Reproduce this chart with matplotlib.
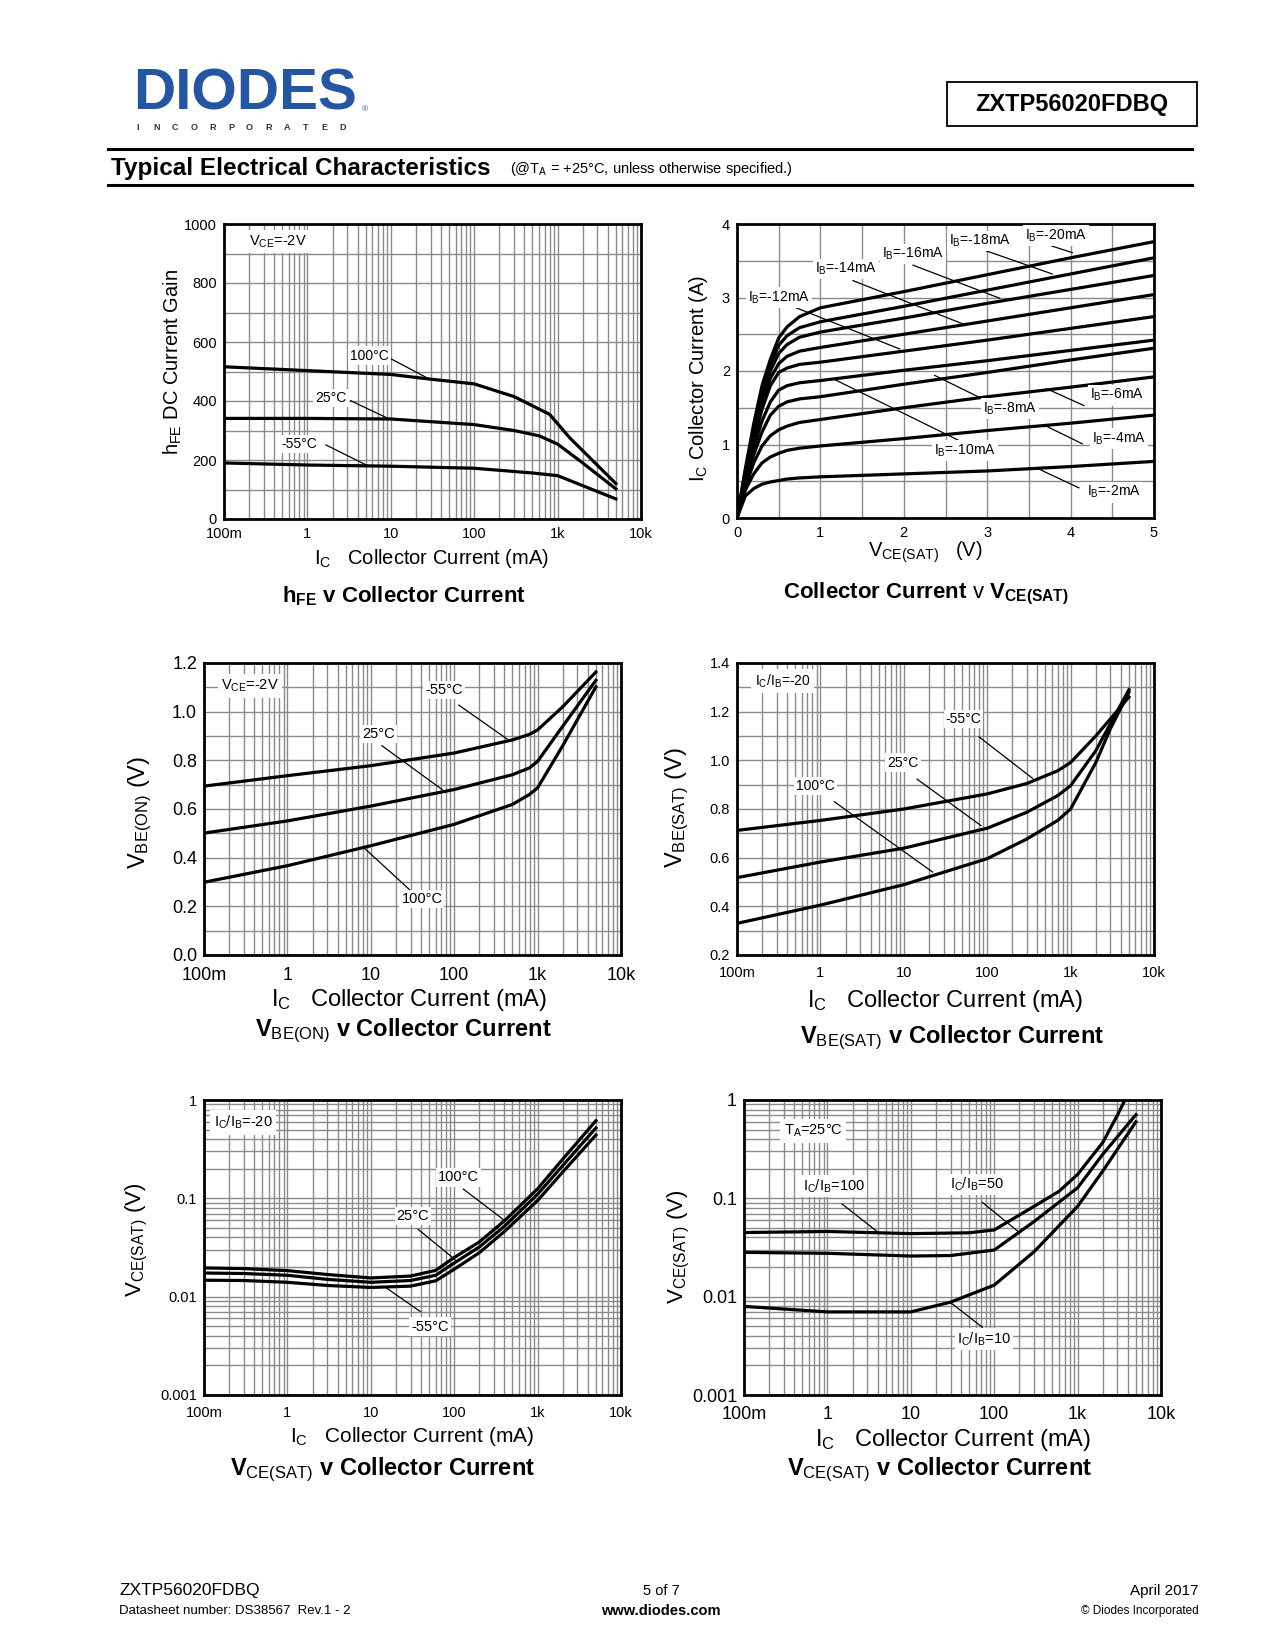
import matplotlib
matplotlib.use('Agg')
import matplotlib.pyplot as plt
import numpy as np
from matplotlib.ticker import LogLocator, FixedLocator, NullFormatter, MultipleLocator, FormatStrFormatter
from matplotlib.patches import Rectangle
from matplotlib.lines import Line2D

plt.rcParams['font.family'] = ['Liberation Sans', 'DejaVu Sans']
plt.rcParams['mathtext.fontset'] = 'custom'
plt.rcParams['mathtext.rm'] = 'Liberation Sans'
plt.rcParams['mathtext.bf'] = 'Liberation Sans:bold'
plt.rcParams['mathtext.it'] = 'Liberation Sans:italic'
plt.rcParams['mathtext.default'] = 'regular'

# ---------------- data ----------------
# hFE vs Ic
hfe_ic_100 = [0.1, 1, 10, 30, 100, 300, 800, 1400, 5000]
hfe_100 = [516, 503, 490, 474, 458, 415, 355, 275, 120]
hfe_ic_25 = [0.1, 1, 10, 100, 300, 600, 1000, 2000, 5000]
hfe_25 = [341, 341, 339, 320, 300, 282, 254, 190, 102]
hfe_ic_m55 = [0.1, 1, 10, 100, 500, 1000, 2000, 5000]
hfe_m55 = [190, 183, 179, 172, 156, 147, 113, 68]

# Ic vs Vce(sat)
vce_pts = [0, 0.1, 0.2, 0.3, 0.4, 0.5, 0.6, 0.75, 1.0, 2, 3, 4, 5]
ic_ib2 = [0, 0.30, 0.40, 0.46, 0.49, 0.51, 0.53, 0.545, 0.56, 0.60, 0.64, 0.70, 0.77]
ic_ib4 = [0, 0.38, 0.60, 0.75, 0.83, 0.88, 0.92, 0.95, 0.98, 1.08, 1.19, 1.29, 1.40]
ic_ib6 = [0, 0.42, 0.75, 0.98, 1.12, 1.20, 1.25, 1.30, 1.34, 1.50, 1.65, 1.78, 1.92]
ic_ib8 = [0, 0.46, 0.86, 1.17, 1.40, 1.52, 1.58, 1.62, 1.65, 1.82, 1.98, 2.15, 2.31]
ic_ib10 = [0, 0.50, 0.95, 1.32, 1.58, 1.74, 1.80, 1.84, 1.87, 2.01, 2.14, 2.28, 2.42]
ic_ib12 = [0, 0.55, 1.05, 1.48, 1.80, 1.98, 2.04, 2.09, 2.12, 2.27, 2.42, 2.58, 2.74]
ic_ib14 = [0, 0.58, 1.10, 1.56, 1.90, 2.10, 2.20, 2.27, 2.32, 2.50, 2.68, 2.86, 3.04]
ic_ib16 = [0, 0.61, 1.16, 1.64, 2.00, 2.24, 2.36, 2.46, 2.53, 2.72, 2.92, 3.11, 3.30]
ic_ib18 = [0, 0.64, 1.22, 1.72, 2.08, 2.35, 2.48, 2.59, 2.67, 2.88, 3.10, 3.32, 3.54]
ic_ib20 = [0, 0.67, 1.28, 1.80, 2.16, 2.45, 2.60, 2.74, 2.86, 3.08, 3.31, 3.54, 3.76]

# VBE(ON) vs Ic
vbeon_ic = [0.1, 1, 10, 100, 500, 800, 1000, 2000, 5000]
vbeon_m55 = [0.694, 0.737, 0.778, 0.830, 0.884, 0.907, 0.925, 1.02, 1.163]
vbeon_25 = [0.501, 0.551, 0.612, 0.680, 0.741, 0.769, 0.796, 0.94, 1.129]
vbeon_100 = [0.299, 0.367, 0.449, 0.537, 0.619, 0.660, 0.687, 0.86, 1.102]

# VBE(SAT) vs Ic
vbesat_ic = [0.1, 1, 10, 100, 300, 700, 1000, 2000, 3000, 5000]
vbesat_m55 = [0.712, 0.753, 0.800, 0.862, 0.905, 0.957, 0.991, 1.10, 1.17, 1.26]
vbesat_25 = [0.518, 0.582, 0.639, 0.721, 0.787, 0.855, 0.896, 1.039, 1.15, 1.29]
vbesat_100 = [0.330, 0.405, 0.489, 0.596, 0.677, 0.753, 0.800, 0.99, 1.13, 1.28]

# VCE(SAT) vs Ic, temperature
vcesat_ic = [0.1, 0.3, 1, 3, 10, 30, 60, 100, 200, 400, 1000, 2000, 5000]
vcesat_100 = [0.0196, 0.0193, 0.0184, 0.0168, 0.0155, 0.0162, 0.0185, 0.025, 0.036, 0.059, 0.125, 0.25, 0.615]
vcesat_25 = [0.0174, 0.0172, 0.0165, 0.0150, 0.0140, 0.0146, 0.0165, 0.022, 0.032, 0.052, 0.110, 0.215, 0.52]
vcesat_m55 = [0.0147, 0.0146, 0.0140, 0.0130, 0.0124, 0.0128, 0.0145, 0.019, 0.028, 0.046, 0.095, 0.185, 0.44]

# VCE(SAT) vs Ic, Ic/Ib ratio
ratio_ic_100 = [0.1, 1, 10, 50, 100, 300, 600, 1000, 2000, 3000, 3700]
ratio_100 = [0.0449, 0.0460, 0.0438, 0.0446, 0.0477, 0.0828, 0.118, 0.175, 0.369, 0.70, 1.0]
ratio_ic = [0.1, 1, 10, 30, 100, 300, 1000, 2000, 5000]
ratio_50 = [0.0282, 0.0276, 0.0259, 0.0262, 0.0298, 0.058, 0.128, 0.28, 0.708]
ratio_10 = [0.00796, 0.0070, 0.0070, 0.0088, 0.0131, 0.0286, 0.0828, 0.189, 0.600]

log_ticks = [0.1, 1, 10, 100, 1000, 10000]
log_labels = ['100m', '1', '10', '100', '1k', '10k']

# ---------------- figure ----------------
W, H = 1275, 1650
fig = plt.figure(figsize=(12.75, 16.5), dpi=100)

GRID = '#8a8a8a'
LW = 2.3


def ax_px(x0, y0, x1, y1):
    return fig.add_axes([x0 / W, 1 - y1 / H, (x1 - x0) / W, (y1 - y0) / H])


def ftxt(x, y, s, **kw):
    return fig.text(x / W, 1 - y / H, s, **kw)


def style(ax, fs, xpad=5):
    for sp in ax.spines.values():
        sp.set_linewidth(2.0)
        sp.set_color('black')
    ax.set_axisbelow(True)
    ax.tick_params(which='both', length=0, labelsize=fs, pad=5)
    ax.tick_params(axis='x', which='both', pad=xpad)
    ax.grid(which='both', color=GRID, lw=1.0)


def logx(ax):
    ax.set_xscale('log')
    ax.set_xlim(0.1, 10000)
    ax.xaxis.set_major_locator(FixedLocator(log_ticks))
    ax.xaxis.set_minor_locator(LogLocator(base=10, subs=np.arange(2, 10), numticks=100))
    ax.xaxis.set_minor_formatter(NullFormatter())
    ax.set_xticks(log_ticks)
    ax.set_xticklabels(log_labels)


def logy(ax):
    ax.set_yscale('log')
    ax.set_ylim(0.001, 1)
    ax.yaxis.set_major_locator(FixedLocator([0.001, 0.01, 0.1, 1]))
    ax.yaxis.set_minor_locator(LogLocator(base=10, subs=np.arange(2, 10), numticks=100))
    ax.yaxis.set_minor_formatter(NullFormatter())
    ax.set_yticks([0.001, 0.01, 0.1, 1])
    ax.set_yticklabels(['0.001', '0.01', '0.1', '1'])


def lab(ax, s, tx, ty, p0, p1, fs=10):
    ax.plot([p0[0], p1[0]], [p0[1], p1[1]], color='black', lw=0.9, zorder=4)
    ax.text(tx, ty, s, ha='center', va='center', fontsize=fs, zorder=6,
            bbox=dict(fc='white', ec='none', pad=1.5))


def box(ax, s, tx, ty, fs=10):
    ax.text(tx, ty, s, ha='center', va='center', fontsize=fs, zorder=6,
            bbox=dict(fc='white', ec='none', pad=2.5))


# ---------------- header ----------------
ftxt(133, 110, 'DIODES', fontsize=42, fontweight='bold', color='#2456a4', ha='left', va='baseline')
fig.add_artist(Line2D([128 / W, 352 / W], [1 - 94 / H, 1 - 94 / H], color='white', lw=2.0))
for i, ch in enumerate('INCORPORATED'):
    ftxt(138 + i * 18.6, 128, ch, fontsize=6.5, fontweight='bold', color='#333333', ha='center', va='center')
ftxt(362, 110, '®', fontsize=6, color='#2456a4', ha='left', va='center')
fig.add_artist(Rectangle((947 / W, 1 - 126 / H), 250 / W, 44 / H, fill=False, ec='black', lw=1.3))
ftxt(1072, 104, 'ZXTP56020FDBQ', fontsize=17, fontweight='bold', ha='center', va='center')
fig.add_artist(Line2D([108 / W, 1192 / W], [1 - 149 / H, 1 - 149 / H], color='black', lw=2.2))
fig.add_artist(Line2D([108 / W, 1192 / W], [1 - 185 / H, 1 - 185 / H], color='black', lw=2.2))
ftxt(111, 168, 'Typical Electrical Characteristics', fontsize=17.5, fontweight='bold', ha='left', va='center')
ftxt(510, 169, r'(@T$_A$ = +25°C, unless otherwise specified.)', fontsize=10.5, ha='left', va='center')

# ---------------- footer ----------------
ftxt(119, 1591, 'ZXTP56020FDBQ', fontsize=12.5, ha='left', va='center')
ftxt(119, 1611, 'Datasheet number: DS38567  Rev.1 - 2', fontsize=9.5, ha='left', va='center')
ftxt(661, 1591, '5 of 7', fontsize=10.5, ha='center', va='center')
ftxt(661, 1611, 'www.diodes.com', fontsize=10.5, fontweight='bold', ha='center', va='center')
ftxt(1199, 1591, 'April 2017', fontsize=11, ha='right', va='center')
ftxt(1199, 1611, '© Diodes Incorporated', fontsize=8.5, ha='right', va='center')

# ---------------- chart 1: hFE ----------------
ax1 = ax_px(224, 224, 641, 519)
style(ax1, 10.5, xpad=6)
logx(ax1)
ax1.set_ylim(0, 1000)
ax1.yaxis.set_major_locator(MultipleLocator(200))
ax1.yaxis.set_minor_locator(MultipleLocator(100))
ax1.plot(hfe_ic_100, hfe_100, color='black', lw=LW)
ax1.plot(hfe_ic_25, hfe_25, color='black', lw=LW)
ax1.plot(hfe_ic_m55, hfe_m55, color='black', lw=LW)
lab(ax1, '100°C', 5.5, 554, (9.6, 546), (28.7, 475))
lab(ax1, '25°C', 1.92, 409, (3.3, 401), (9.6, 339))
lab(ax1, '-55°C', 0.80, 254, (1.67, 251), (5.25, 181))
box(ax1, r'V$_{CE}$=-2V', 0.44, 940, 10.5)
ftxt(432, 558, r'I$_C$   Collector Current (mA)', fontsize=14.5, ha='center', va='center')
ftxt(173, 362, r'h$_{FE}$ DC Current Gain', fontsize=14.5, ha='center', va='center', rotation=90)
ftxt(404, 596, r'h$_{FE}$ v Collector Current', fontsize=16, fontweight='bold', ha='center', va='center')

# ---------------- chart 2: Ic vs Vce ----------------
ax2 = ax_px(737, 224, 1154, 518)
style(ax2, 10.5, xpad=6)
ax2.set_xlim(0, 5)
ax2.set_ylim(0, 4)
ax2.xaxis.set_major_locator(MultipleLocator(1))
ax2.xaxis.set_minor_locator(MultipleLocator(0.5))
ax2.yaxis.set_major_locator(MultipleLocator(1))
ax2.yaxis.set_minor_locator(MultipleLocator(0.5))
for ys in [ic_ib2, ic_ib4, ic_ib6, ic_ib8, ic_ib10, ic_ib12, ic_ib14, ic_ib16, ic_ib18, ic_ib20]:
    ax2.plot(vce_pts, ys, color='black', lw=LW)
lab(ax2, r'I$_B$=-20mA', 3.82, 3.84, (3.75, 3.71), (4.02, 3.61))
lab(ax2, r'I$_B$=-18mA', 2.91, 3.77, (2.95, 3.65), (3.78, 3.32))
lab(ax2, r'I$_B$=-16mA', 2.11, 3.59, (2.11, 3.44), (3.15, 2.99))
lab(ax2, r'I$_B$=-14mA', 1.31, 3.39, (1.39, 3.23), (2.71, 2.64))
lab(ax2, r'I$_B$=-12mA', 0.50, 3.00, (0.60, 2.91), (1.95, 2.30))
lab(ax2, r'I$_B$=-8mA', 3.27, 1.49, (2.37, 1.94), (3.07, 1.55))
lab(ax2, r'I$_B$=-10mA', 2.73, 0.92, (1.16, 1.89), (2.65, 1.06))
lab(ax2, r'I$_B$=-6mA', 4.56, 1.67, (3.71, 1.76), (4.16, 1.53))
lab(ax2, r'I$_B$=-4mA', 4.58, 1.08, (3.69, 1.26), (4.14, 1.01))
lab(ax2, r'I$_B$=-2mA', 4.52, 0.35, (3.63, 0.66), (4.10, 0.41))
ftxt(925, 552, r'V$_{CE(SAT)}$   (V)', fontsize=14.5, ha='center', va='center')
ftxt(698, 378, r'I$_C$ Collector Current (A)', fontsize=14.5, ha='center', va='center', rotation=90)
ftxt(926, 594, r'Collector Current $\mathrm{v}$ V$_{CE(SAT)}$', fontsize=16, fontweight='bold',
     ha='center', va='center')

# ---------------- chart 3: VBE(ON) ----------------
ax3 = ax_px(204, 663, 621, 955)
style(ax3, 13, xpad=8.5)
logx(ax3)
ax3.set_ylim(0, 1.2)
ax3.yaxis.set_major_locator(MultipleLocator(0.2))
ax3.yaxis.set_minor_locator(MultipleLocator(0.1))
ax3.yaxis.set_major_formatter(FormatStrFormatter('%.1f'))
ax3.plot(vbeon_ic, vbeon_m55, color='black', lw=LW)
ax3.plot(vbeon_ic, vbeon_25, color='black', lw=LW)
ax3.plot(vbeon_ic, vbeon_100, color='black', lw=LW)
lab(ax3, '-55°C', 75, 1.088, (113.5, 1.027), (433, 0.887), 10.5)
lab(ax3, '25°C', 12.4, 0.907, (13.6, 0.860), (71.6, 0.680), 10.5)
lab(ax3, '100°C', 41, 0.231, (31.2, 0.259), (8.2, 0.442), 10.5)
box(ax3, r'V$_{CE}$=-2V', 0.355, 1.106, 10.5)
ftxt(409, 1000, r'I$_C$   Collector Current (mA)', fontsize=17, ha='center', va='center')
ftxt(140, 812, r'V$_{BE(ON)}$ (V)', fontsize=17, ha='center', va='center', rotation=90)
ftxt(403, 1031, r'V$_{\mathrm{BE(ON)}}$ v Collector Current', fontsize=17, fontweight='bold',
     ha='center', va='center')

# ---------------- chart 4: VBE(SAT) ----------------
ax4 = ax_px(737, 663, 1154, 955)
style(ax4, 10.5, xpad=8)
logx(ax4)
ax4.set_ylim(0.2, 1.4)
ax4.yaxis.set_major_locator(MultipleLocator(0.2))
ax4.yaxis.set_minor_locator(MultipleLocator(0.1))
ax4.yaxis.set_major_formatter(FormatStrFormatter('%.1f'))
ax4.plot(vbesat_ic, vbesat_m55, color='black', lw=LW)
ax4.plot(vbesat_ic, vbesat_25, color='black', lw=LW)
ax4.plot(vbesat_ic, vbesat_100, color='black', lw=LW)
lab(ax4, '-55°C', 52, 1.169, (80, 1.096), (350, 0.926), 10)
lab(ax4, '25°C', 9.8, 0.991, (14.4, 0.923), (84, 0.732), 10)
lab(ax4, '100°C', 0.87, 0.896, (1.47, 0.830), (22.1, 0.541), 10)
box(ax4, r'I$_C$/I$_B$=-20', 0.35, 1.325, 10)
ftxt(945, 1001, r'I$_C$   Collector Current (mA)', fontsize=17, ha='center', va='center')
ftxt(677, 808, r'V$_{BE(SAT)}$ (V)', fontsize=17, ha='center', va='center', rotation=90)
ftxt(952, 1038, r'V$_{\mathrm{BE(SAT)}}$ v Collector Current', fontsize=17, fontweight='bold',
     ha='center', va='center')

# ---------------- chart 5: VCE(SAT) temperature ----------------
ax5 = ax_px(204, 1100, 621, 1395)
style(ax5, 10.5, xpad=8)
logx(ax5)
logy(ax5)
ax5.plot(vcesat_ic, vcesat_100, color='black', lw=LW)
ax5.plot(vcesat_ic, vcesat_25, color='black', lw=LW)
ax5.plot(vcesat_ic, vcesat_m55, color='black', lw=LW)
lab(ax5, '100°C', 112, 0.163, (129, 0.124), (407, 0.059), 10.5)
lab(ax5, '25°C', 32, 0.066, (37, 0.0483), (102, 0.0239), 10.5)
lab(ax5, '-55°C', 51, 0.00497, (39, 0.00708), (15.5, 0.0122), 10.5)
box(ax5, r'I$_C$/I$_B$=-20', 0.295, 0.59, 10.5)
ftxt(412, 1436, r'I$_C$   Collector Current (mA)', fontsize=15, ha='center', va='center')
ftxt(137, 1240, r'V$_{CE(SAT)}$ (V)', fontsize=16, ha='center', va='center', rotation=90)
ftxt(383, 1470, r'V$_{\mathrm{CE(SAT)}}$ v Collector Current', fontsize=17, fontweight='bold',
     ha='center', va='center')

# ---------------- chart 6: VCE(SAT) ratio ----------------
ax6 = ax_px(744, 1100, 1161, 1395)
style(ax6, 13, xpad=8)
logx(ax6)
logy(ax6)
ax6.plot(ratio_ic_100, ratio_100, color='black', lw=LW)
ax6.plot(ratio_ic, ratio_50, color='black', lw=LW)
ax6.plot(ratio_ic, ratio_10, color='black', lw=LW)
lab(ax6, r'I$_C$/I$_B$=100', 1.2, 0.133, (1.5, 0.0875), (3.95, 0.0459), 10.5)
lab(ax6, r'I$_C$/I$_B$=50', 62, 0.139, (72, 0.091), (194, 0.0459), 10.5)
lab(ax6, r'I$_C$/I$_B$=10', 75, 0.0037, (72, 0.00489), (30, 0.0087), 10.5)
box(ax6, r'T$_A$=25°C', 0.68, 0.485, 10.5)
ftxt(953, 1440, r'I$_C$   Collector Current (mA)', fontsize=17, ha='center', va='center')
ftxt(679, 1247, r'V$_{CE(SAT)}$ (V)', fontsize=16, ha='center', va='center', rotation=90)
ftxt(940, 1470, r'V$_{\mathrm{CE(SAT)}}$ v Collector Current', fontsize=17, fontweight='bold',
     ha='center', va='center')

fig.savefig('out.png', dpi=100, facecolor='white')
